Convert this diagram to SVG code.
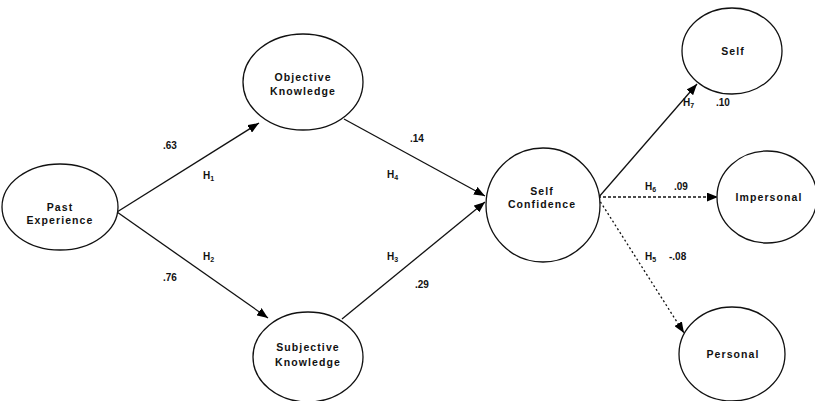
<svg xmlns="http://www.w3.org/2000/svg" width="815" height="401" viewBox="0 0 815 401">
<defs>
<marker id="ah" viewBox="0 0 10 8" refX="10" refY="4" markerWidth="11" markerHeight="9" markerUnits="userSpaceOnUse" orient="auto">
<path d="M0,0 L10,4 L0,8 Z" fill="#000"/>
</marker>
<style>
.node ellipse{fill:#fff;stroke:#111;stroke-width:1.3}
.nt{font-family:"Liberation Sans",Arial,sans-serif;font-weight:bold;font-size:10.5px;letter-spacing:1.1px;text-anchor:middle;fill:#111}
.lb{font-family:"Liberation Sans",Arial,sans-serif;font-weight:bold;font-size:10px;fill:#111}
.sub{font-size:7px}
.ln{stroke:#111;stroke-width:1.3;fill:none;marker-end:url(#ah)}
.dash{stroke-dasharray:3 2}
.dot{stroke-dasharray:2 2.5}
</style>
</defs>
<rect width="815" height="401" fill="#fff"/>
<g id="connectors">
<line class="ln" x1="117" y1="212" x2="259" y2="123"/>
<line class="ln" x1="117" y1="212" x2="268" y2="318"/>
<line class="ln" x1="344" y1="119" x2="485" y2="196"/>
<line class="ln" x1="342" y1="319" x2="485" y2="202"/>
<line class="ln" x1="598" y1="198" x2="697" y2="84"/>
<line class="ln dash" x1="598" y1="197" x2="718" y2="197"/>
<line class="ln dot" x1="598" y1="198" x2="684" y2="333"/>
</g>
<g id="labels">
<text class="lb" x="163" y="149">.63</text>
<text class="lb" x="203" y="179">H<tspan class="sub" dy="2">1</tspan></text>
<text class="lb" x="203" y="260">H<tspan class="sub" dy="2">2</tspan></text>
<text class="lb" x="163" y="281">.76</text>
<text class="lb" x="410" y="142">.14</text>
<text class="lb" x="387" y="178">H<tspan class="sub" dy="2">4</tspan></text>
<text class="lb" x="387" y="260">H<tspan class="sub" dy="2">3</tspan></text>
<text class="lb" x="415" y="288">.29</text>
<text class="lb" x="683" y="106">H<tspan class="sub" dy="2">7</tspan></text>
<text class="lb" x="716" y="106">.10</text>
<text class="lb" x="645" y="190">H<tspan class="sub" dy="2">6</tspan></text>
<text class="lb" x="674" y="190">.09</text>
<text class="lb" x="645" y="260">H<tspan class="sub" dy="2">5</tspan></text>
<text class="lb" x="669" y="260">-.08</text>
</g>
<g id="past-experience" class="node">
<ellipse cx="60" cy="207" rx="58" ry="43"/>
<text class="nt" x="60" y="211">Past</text>
<text class="nt" x="60" y="224">Experience</text>
</g>
<g id="objective-knowledge" class="node">
<ellipse cx="303" cy="82" rx="60" ry="48"/>
<text class="nt" x="303" y="81">Objective</text>
<text class="nt" x="303" y="95">Knowledge</text>
</g>
<g id="subjective-knowledge" class="node">
<ellipse cx="308" cy="357" rx="55" ry="45"/>
<text class="nt" x="308" y="351">Subjective</text>
<text class="nt" x="308" y="366">Knowledge</text>
</g>
<g id="self-confidence" class="node">
<ellipse cx="543" cy="205" rx="57" ry="57"/>
<text class="nt" x="542" y="195">Self</text>
<text class="nt" x="542" y="208">Confidence</text>
</g>
<g id="self" class="node">
<ellipse cx="732" cy="51" rx="50" ry="43"/>
<text class="nt" x="733" y="55">Self</text>
</g>
<g id="impersonal" class="node">
<ellipse cx="767" cy="197" rx="50" ry="46"/>
<text class="nt" x="769" y="201">Impersonal</text>
</g>
<g id="personal" class="node">
<ellipse cx="732" cy="354" rx="53" ry="47"/>
<text class="nt" x="733" y="358">Personal</text>
</g>
</svg>
